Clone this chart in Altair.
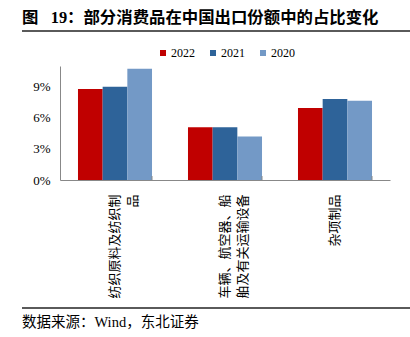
import altair as alt
import pandas as pd

categories = ["纺织原料及纺织制|品", "车辆、航空器、船|舶及有关运输设备", "杂项制品"]
years = ["2022", "2021", "2020"]
v2022 = [0.0878, 0.051, 0.0694]
v2021 = [0.090, 0.051, 0.0781]
v2020 = [0.1074, 0.0419, 0.0765]
colors = ["#C00000", "#2E6399", "#7399C6"]
y_ticks = [0, 0.03, 0.06, 0.09]

title_text = "图\u2002 19：部分消费品在中国出口份额中的占比变化"
source_text = "数据来源：Wind，东北证券"

rows = []
for yr, vals in zip(years, [v2022, v2021, v2020]):
    for c, v in zip(categories, vals):
        rows.append({"cat": c, "year": yr, "value": v})
df = pd.DataFrame(rows)

FONT = "Liberation Serif, Noto Sans CJK SC"
W, H = 330, 114

xscale = alt.Scale(domain=categories, paddingInner=0.327, paddingOuter=0.1635)

bars = alt.Chart(df).mark_bar().encode(
    x=alt.X("cat:N", sort=categories, scale=xscale,
            axis=alt.Axis(title=None, labelAngle=-90, ticks=False, tickSize=0,
                          labelPadding=14, domainColor="#888888",
                          labelFont=FONT, labelFontSize=13, labelColor="#000000",
                          labelLineHeight=18, labelLimit=300,
                          labelExpr="split(datum.label, '|')")),
    xOffset=alt.XOffset("year:N", sort=years, scale=alt.Scale(paddingInner=0, paddingOuter=0)),
    y=alt.Y("value:Q", scale=alt.Scale(domain=[0, 0.11], nice=False),
            axis=alt.Axis(title=None, values=y_ticks, format=".0%", grid=False,
                          ticks=False, tickSize=0, labelPadding=10,
                          domainColor="#888888", labelFont=FONT,
                          labelFontSize=13, labelColor="#000000")),
    color=alt.Color("year:N", sort=years,
                    scale=alt.Scale(domain=years, range=colors),
                    legend=alt.Legend(title=None, orient="none", direction="horizontal",
                                      legendX=97, legendY=-19, symbolType="square",
                                      symbolSize=36, symbolStrokeWidth=0,
                                      labelFont=FONT, labelFontSize=12,
                                      labelColor="#000000", labelOffset=2,
                                      columnPadding=12, padding=0)),
)

tick_df = pd.DataFrame({"cat": categories})
ticks = alt.Chart(tick_df).mark_rule(color="#888888", strokeWidth=1).encode(
    x=alt.X("cat:N", sort=categories, bandPosition=1),
    y=alt.value(H - 4),
    y2=alt.value(H),
)

one = alt.Data(values=[{"a": 1}])
title = alt.Chart(one).mark_text(
    align="left", baseline="middle", font=FONT, fontSize=16.4, fontWeight="bold",
    color="#000000").encode(x=alt.value(-38), y=alt.value(-48), text=alt.value(title_text))
source = alt.Chart(one).mark_text(
    align="left", baseline="middle", font=FONT, fontSize=14.5,
    color="#000000").encode(x=alt.value(-38), y=alt.value(257), text=alt.value(source_text))
top_line = alt.Chart(one).mark_rule(color="#5a5a5a", strokeWidth=2).encode(
    x=alt.value(-38), x2=alt.value(350), y=alt.value(-35))
bottom_line = alt.Chart(one).mark_rule(color="#5a5a5a", strokeWidth=2).encode(
    x=alt.value(-38), x2=alt.value(350), y=alt.value(242))

chart = alt.layer(bars, ticks, title, source, top_line, bottom_line).properties(
    width=W, height=H,
    autosize=alt.AutoSizeParams(type="none"),
    padding={"left": 60, "top": 66, "right": 20, "bottom": 157},
    background="white",
).configure_view(stroke=None)

chart.save("out.html", embed_options={"renderer": "svg", "actions": False})
